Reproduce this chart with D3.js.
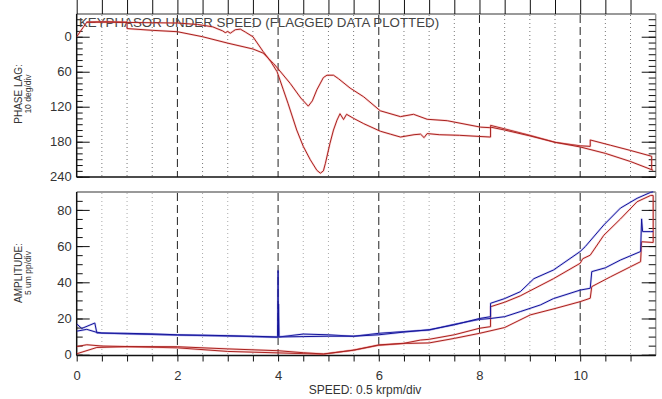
<!DOCTYPE html>
<html><head><meta charset="utf-8">
<script src="https://cdn.jsdelivr.net/npm/d3@7"></script>
<style>body{margin:0;background:#fff}svg{display:block}text{font-family:"Liberation Sans",Arial,sans-serif}</style>
</head><body><svg id="c" width="662" height="399"></svg>
<script>
const title = "KEYPHASOR UNDER SPEED (FLAGGED DATA PLOTTED)";
const xLabel = "SPEED: 0.5 krpm/div";
const phaseTitle = ["PHASE LAG:", "10 deg/div"];
const ampTitle = ["AMPLITUDE:", "5 um pp/div"];
const speedTicks = [0, 2, 4, 6, 8, 10];
const phaseTicks = [0, 60, 120, 180, 240];
const ampTicks = [0, 20, 40, 60, 80];

// phase lag (deg) vs speed (krpm)
const phaseA = [[0.2,-25],[0.5,-25],[1.0,-24.5],[1.5,-24],[2.0,-23.5],[2.4,-21],[2.7,-17],[2.9,-10],[2.95,-7],[3.0,-9],[3.05,-6],[3.1,-9],[3.15,-12],[3.25,-13],[3.35,-8],[3.5,0],[3.7,25],[3.85,42],[3.98,60],[4.1,90],[4.2,115],[4.37,160],[4.5,188],[4.64,211],[4.77,229],[4.84,234],[4.9,230],[4.94,217],[5.03,183],[5.1,160],[5.17,143],[5.23,132],[5.3,142],[5.36,133],[5.5,140],[5.7,149],[6.03,162],[6.23,167],[6.43,172],[6.7,168],[6.83,167],[6.9,173],[6.96,166],[7.2,168],[7.6,169],[8.0,171],[8.22,172],[8.22,155],[8.5,160],[9.0,170],[9.5,181],[10.0,189],[10.5,200],[11.0,214],[11.45,229]];
const phaseB = [[0,0],[0.2,-25],[0.6,-26],[1.0,-25],[1.0,-14],[1.5,-11],[2.0,-8.6],[2.5,0],[3.0,11],[3.5,21],[3.7,28],[3.91,46],[4.0,55],[4.24,80],[4.45,105],[4.6,119],[4.68,110],[4.77,91],[4.9,70],[4.97,66],[5.1,66],[5.2,72],[5.43,88],[5.7,103],[6.03,127],[6.43,137],[6.69,133],[6.96,141.5],[7.36,144],[8.02,155],[8.22,156],[8.22,152],[8.5,158],[9.0,169],[9.5,181],[10.0,187],[10.2,188],[10.2,177],[10.6,186],[11.0,195],[11.42,205],[11.42,228]];

// amplitude (um pp) vs speed (krpm)
const ampBlueA = [[0,13],[0.2,14],[0.38,12.5],[0.5,12],[1,11.8],[1.5,11.5],[2,11],[2.5,10.8],[3,10.5],[3.5,10.2],[4.0,9.8],[4.5,10],[5,10.2],[5.5,10.2],[6,11],[6.5,12.5],[7,13.8],[7.5,16.5],[8,20],[8.22,21],[8.22,28.4],[8.5,31],[8.81,34.8],[9.08,42],[9.47,46.8],[10,57],[10.1,59.7],[10.47,71.7],[10.8,81],[11.13,86.4],[11.4,89.7],[11.45,90]];
const ampBlueB = [[0,17],[0.1,14.5],[0.36,17.5],[0.4,12],[1,11.5],[2,10.8],[3,10.3],[3.99,9.6],[4.0,46.5],[4.005,9.8],[4.01,28],[4.02,9.8],[4.5,11.4],[5,11],[5.5,10.2],[6,11.8],[6.5,12.8],[7,13.6],[7.5,16.8],[8,19.5],[8.22,20],[8.5,21],[8.81,23.8],[9.21,27.5],[9.47,31],[10,35.7],[10.2,36.7],[10.23,45.9],[10.5,48],[10.8,52.3],[11.2,57],[11.22,75],[11.24,68],[11.4,68],[11.45,68]];
const ampRedA = [[0,4.5],[0.2,5.5],[0.5,4.8],[1,4.5],[2,4.4],[3,3.2],[4,2.2],[4.5,1.1],[4.9,0.4],[5.5,2.5],[6,5.4],[6.5,6.3],[6.83,8.1],[7,8.5],[7.5,11],[8,14.6],[8.22,15.5],[8.22,26.5],[8.5,29],[8.81,32.5],[9.47,42],[10,50.5],[10.05,53],[10.2,55],[10.47,66],[10.8,75],[11.13,84.5],[11.4,88],[11.45,88]];
const ampRedB = [[0,0.5],[0.4,4],[1,4.4],[2,3.8],[3,1.8],[4,1.0],[4.5,0.6],[4.9,0.3],[5.5,2.5],[6,5.2],[6.5,6.2],[7,6.5],[7.5,9],[8,11.8],[8.5,15],[9.01,22],[9.5,25.5],[10,29.3],[10.2,31.2],[10.23,37.6],[10.6,43],[11.0,48.6],[11.2,51.4],[11.22,62.4],[11.45,62],[11.45,88]];

const svg = d3.select("#c");
svg.append("rect").attr("width",662).attr("height",399).attr("fill","#fff");
const L = 76.7, R = 655.7;
const x = d3.scaleLinear().domain([0, 11.5]).range([L, R]);
const yP = d3.scaleLinear().domain([-40, 240]).range([13.4, 176.7]);
const yA = d3.scaleLinear().domain([-0.5, 90]).range([355.6, 191.8]);
const halfSteps = d3.range(0, 11.01, 0.5);
const panels = [
  {y: yP, top: 14, bot: 177, dotCol: "#777", dot: "1,3"},
  {y: yA, top: 192, bot: 355.5, dotCol: "#aaa", dot: "1,3"}
];

panels.forEach((p, i) => {
  const g = svg.append("g");
  halfSteps.filter(v => v > 0).forEach(v => {
    const dashed = Number.isInteger(v) && v % 2 === 0;
    g.append("line").attr("x1", x(v)).attr("x2", x(v)).attr("y1", p.top + 1).attr("y2", p.bot)
      .attr("stroke", dashed ? "#222" : p.dotCol).attr("stroke-width", 1)
      .attr("stroke-dasharray", dashed ? "8,4" : p.dot);
  });
  g.append("line").attr("x1", L).attr("x2", R).attr("y1", p.top).attr("y2", p.top).attr("stroke", "#999").attr("stroke-width", 2);
  g.append("line").attr("x1", R).attr("x2", R).attr("y1", p.top).attr("y2", p.bot).attr("stroke", "#999").attr("stroke-width", 1.5);
  g.append("defs").append("clipPath").attr("id", "clip" + i).append("rect")
    .attr("x", L).attr("y", p.top - 1).attr("width", R - L + 1).attr("height", p.bot - p.top + 2);
});

function axisStyle(sel) {
  sel.select(".domain").remove();
  sel.selectAll("line").attr("stroke", "#111");
  sel.selectAll("text").attr("fill", "#333").style("font-size", "13px").style("font-family", '"Liberation Sans", Arial, sans-serif');
}
const phMinor = d3.range(-30, 241, 10);
svg.append("g").attr("transform", `translate(${L},0)`).call(d3.axisLeft(yP).tickValues(phMinor).tickSize(-6).tickFormat("")).call(axisStyle);
svg.append("g").attr("transform", `translate(${L},0)`).call(d3.axisLeft(yP).tickValues(phaseTicks).tickSize(-13).tickPadding(5)).call(axisStyle);
svg.append("g").attr("transform", `translate(${R},0)`).call(d3.axisRight(yP).tickValues(phMinor).tickSize(-7).tickFormat("")).call(axisStyle);
svg.append("g").attr("transform", `translate(${R},0)`).call(d3.axisRight(yP).tickValues(phaseTicks).tickSize(-14).tickFormat("")).call(axisStyle);
const amMinor = d3.range(0, 90, 5);
svg.append("g").attr("transform", `translate(${L},0)`).call(d3.axisLeft(yA).tickValues(amMinor).tickSize(-6).tickFormat("")).call(axisStyle);
svg.append("g").attr("transform", `translate(${L},0)`).call(d3.axisLeft(yA).tickValues(ampTicks).tickSize(-13).tickPadding(5)).call(axisStyle);
svg.append("g").attr("transform", `translate(${R},0)`).call(d3.axisRight(yA).tickValues(amMinor).tickSize(-7).tickFormat("")).call(axisStyle);
svg.append("g").attr("transform", `translate(${R},0)`).call(d3.axisRight(yA).tickValues(ampTicks).tickSize(-14).tickFormat("")).call(axisStyle);
svg.append("g").attr("transform", `translate(0,14)`).call(d3.axisTop(x).tickValues(halfSteps).tickSize(14).tickFormat("")).call(axisStyle);
svg.append("g").attr("transform", `translate(0,355.5)`).call(d3.axisBottom(x).tickValues(halfSteps).tickSize(6).tickFormat("")).call(axisStyle);
svg.append("g").attr("transform", `translate(0,355.5)`).call(d3.axisBottom(x).tickValues(speedTicks).tickSize(0).tickPadding(15)).call(axisStyle);

[[14,177],[192,355.5]].forEach(([t,b]) => {
  svg.append("line").attr("x1", L).attr("x2", L).attr("y1", t).attr("y2", b).attr("stroke", "#111").attr("stroke-width", 1.5);
  svg.append("line").attr("x1", L).attr("x2", R).attr("y1", b).attr("y2", b).attr("stroke", "#111").attr("stroke-width", 1.5);
});

svg.append("text").attr("x", 79).attr("y", 27).attr("fill", "#444").style("font-size", "13.3px").text(title);

function yTitle(lines, cy) {
  svg.append("text").attr("transform", `translate(22,${cy}) rotate(-90)`).attr("text-anchor", "middle").attr("fill", "#333").style("font-size", "10px").text(lines[0]);
  svg.append("text").attr("transform", `translate(30.5,${cy}) rotate(-90)`).attr("text-anchor", "middle").attr("fill", "#333").style("font-size", "8.5px").text(lines[1]);
}
yTitle(phaseTitle, 94);
yTitle(ampTitle, 273);

svg.append("text").attr("x", 365).attr("y", 394).attr("text-anchor", "middle").attr("fill", "#333").style("font-size", "12px").text(xLabel);

function curve(data, ys, clip, core, halo) {
  const line = d3.line().x(d => x(d[0])).y(d => ys(d[1]));
  const g = svg.append("g").attr("clip-path", `url(#${clip})`);
  g.append("path").datum(data).attr("d", line).attr("fill", "none").attr("stroke", halo).attr("stroke-width", 2.2).attr("stroke-opacity", 0.35).attr("stroke-linejoin", "round");
  g.append("path").datum(data).attr("d", line).attr("fill", "none").attr("stroke", core).attr("stroke-width", 1).attr("stroke-linejoin", "round");
}
const RED = "#a8221f", RHALO = "#f07a7a", BLUE = "#14149a", BHALO = "#7a7ae0";
curve(phaseB, yP, "clip0", RED, RHALO);
curve(phaseA, yP, "clip0", RED, RHALO);
curve(ampRedB, yA, "clip1", RED, RHALO);
curve(ampRedA, yA, "clip1", RED, RHALO);
curve(ampBlueB, yA, "clip1", BLUE, BHALO);
curve(ampBlueA, yA, "clip1", BLUE, BHALO);
</script></body></html>
